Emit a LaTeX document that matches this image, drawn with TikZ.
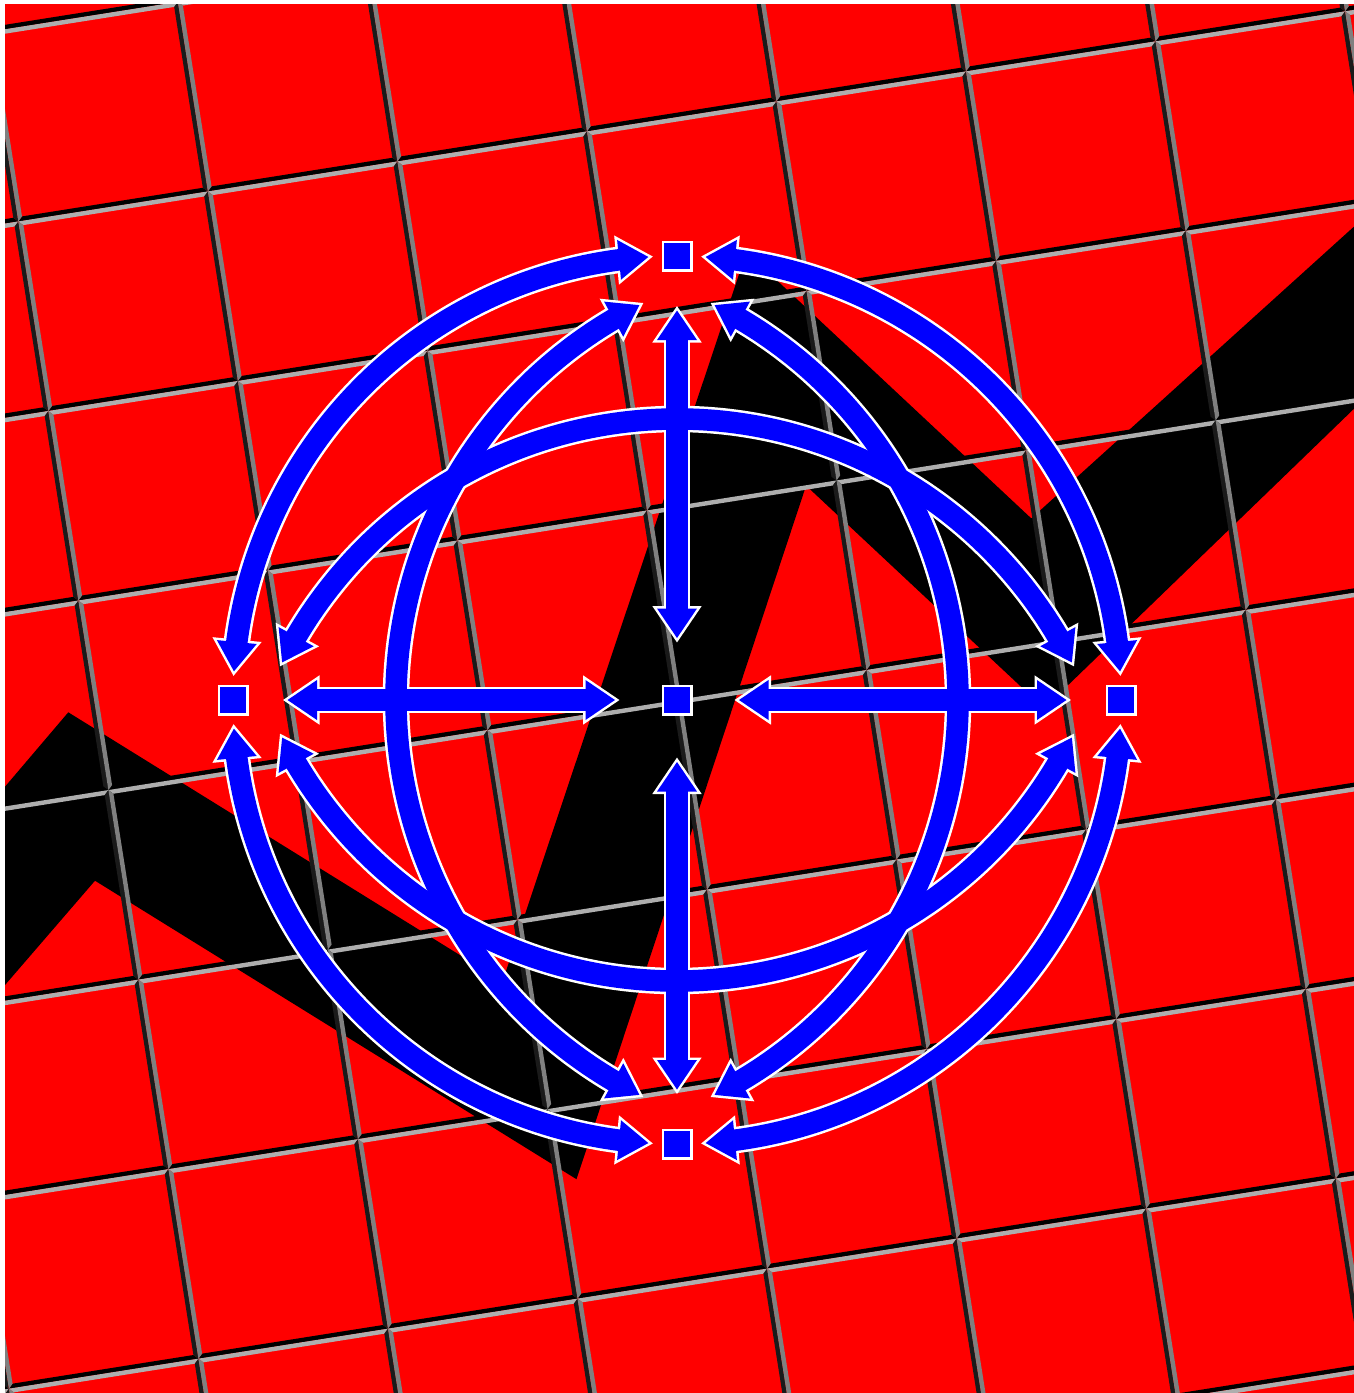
\documentclass[tikz,border=0pt]{standalone}
\usetikzlibrary{calc}
\definecolor{bevtop}{HTML}{AEAEAE}
\definecolor{bevleft}{HTML}{808080}
\definecolor{bevright}{HTML}{1A1A1A}
\definecolor{bevbot}{HTML}{000000}
\definecolor{tilered}{HTML}{FF0000}
\definecolor{arrblue}{HTML}{0000FF}
\tikzset{
  sq/.style={shape=rectangle, draw=white, fill=arrblue, line width=2.5pt,
    minimum size=28.5pt, inner sep=0pt, outer sep=0pt},
  shaftW/.style={draw=white, line width=26.5pt},
  shaftB/.style={draw=arrblue, line width=21.5pt},
  headW/.style={fill=white, draw=white, line width=5pt, line join=miter},
  headB/.style={fill=arrblue},
  zigband/.style={fill=black},
}
\newcommand\tileL{191.9}
\newcommand\bev{4.4}
\newcommand\headtri[3]{\path[#1] (#2) -- ($(#3)!20pt!90:(#2)$) -- ($(#3)!20pt!-90:(#2)$) -- cycle;}
\newcommand\arrowpass[2]{%
  \foreach \X in {nt,nb,nl,nr}{
    \draw[#1] (\X-e1) -- (\X-e2);
    \headtri{#2}{\X-a1}{\X-b1}
    \headtri{#2}{\X-a2}{\X-b2}
  }
  \foreach \q/\qa in {o1/180,o2/270,o3/0,o4/90}{
    \draw[#1] ($(nc)+({\qa+7.2}:444)$) arc[start angle={\qa+7.2}, end angle={\qa+82.8}, radius=444];
    \headtri{#2}{\q-a1}{\q-b1}
    \headtri{#2}{\q-a2}{\q-b2}
  }
  \foreach \q/\qp in {i1/180,i2/0,i3/270,i4/90}{
    \draw[#1] ($(\q-o)+({\qp-59.8}:442)$) arc[start angle={\qp-59.8}, end angle={\qp+59.8}, radius=442];
    \headtri{#2}{\q-a1}{\q-b1}
    \headtri{#2}{\q-a2}{\q-b2}
  }
}
\begin{document}
\begin{tikzpicture}[x=1pt,y=-1pt]
\useasboundingbox (0,0) rectangle (1354,1393);
\fill[white] (0,0) rectangle (1354,1393);
\begin{scope}
  \clip (5,4) rectangle (1354,1393);
  \fill[tilered] (0,0) rectangle (1354,1393);
  \path[zigband] (-40,839.6) -- (68.3,712.3) -- (502.5,981.5) -- (746.5,251.9)
     -- (1031.3,518.4) -- (1400,185) -- (1400,364.3) -- (1044.1,708.3)
     -- (806.1,485.6) -- (576.5,1179.2) -- (95,880.7) -- (-40,1037.2) -- cycle;
  \begin{scope}[shift={(677,700)}, rotate=9]
    \foreach \i in {-5,...,4}{
      \foreach \j in {-5,...,4}{
        \pgfmathsetmacro\xa{\i*\tileL}
        \pgfmathsetmacro\ya{\j*\tileL}
        \pgfmathsetmacro\xb{\xa+\tileL}
        \pgfmathsetmacro\yb{\ya+\tileL}
        \fill[bevtop] (\xa,\ya) -- (\xb,\ya) -- (\xb-\bev,\ya+\bev) -- (\xa+\bev,\ya+\bev) -- cycle;
        \fill[bevbot] (\xa,\yb) -- (\xb,\yb) -- (\xb-\bev,\yb-\bev) -- (\xa+\bev,\yb-\bev) -- cycle;
        \fill[bevleft] (\xa,\ya) -- (\xa+\bev,\ya+\bev) -- (\xa+\bev,\yb-\bev) -- (\xa,\yb) -- cycle;
        \fill[bevright] (\xb,\ya) -- (\xb-\bev,\ya+\bev) -- (\xb-\bev,\yb-\bev) -- (\xb,\yb) -- cycle;
      }
    }
  \end{scope}
\end{scope}
% nodes
\node[sq] (nc) at (677,700) {};
\node[sq] (nt) at (677,256) {};
\node[sq] (nb) at (677,1144) {};
\node[sq] (nl) at (233,700) {};
\node[sq] (nr) at (1121,700) {};
% straight arrow geometry
\foreach \X in {nt,nb,nl,nr}{
  \coordinate (\X-a1) at ($(nc)!62pt!(\X)$);
  \coordinate (\X-b1) at ($(nc)!91.5pt!(\X)$);
  \coordinate (\X-e1) at ($(nc)!88.5pt!(\X)$);
  \coordinate (\X-a2) at ($(\X)!54.5pt!(nc)$);
  \coordinate (\X-b2) at ($(\X)!84pt!(nc)$);
  \coordinate (\X-e2) at ($(\X)!81pt!(nc)$);
}
% outer arcs
\foreach \q/\qa in {o1/180,o2/270,o3/0,o4/90}{
  \coordinate (\q-a1) at ($(nc)+({\qa+3.7}:444)$);
  \coordinate (\q-b1) at ($(nc)+({\qa+7.5}:444)$);
  \coordinate (\q-a2) at ($(nc)+({\qa+86.3}:444)$);
  \coordinate (\q-b2) at ($(nc)+({\qa+82.5}:444)$);
}
% inner arcs
\foreach \q/\qp in {i1/180,i2/0,i3/270,i4/90}{
  \coordinate (\q-o) at ($(nc)+({\qp+180}:161)$);
  \coordinate (\q-a1) at ($(\q-o)+({\qp-63.3}:442)$);
  \coordinate (\q-b1) at ($(\q-o)+({\qp-59.5}:442)$);
  \coordinate (\q-a2) at ($(\q-o)+({\qp+63.3}:442)$);
  \coordinate (\q-b2) at ($(\q-o)+({\qp+59.5}:442)$);
}
\arrowpass{shaftW}{headW}
\arrowpass{shaftB}{headB}
\end{tikzpicture}
\end{document}
